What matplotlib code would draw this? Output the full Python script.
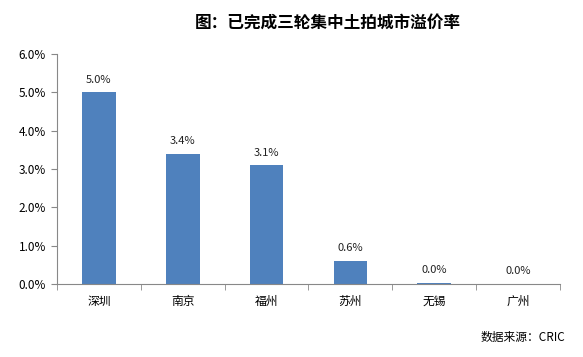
import matplotlib.pyplot as plt
from matplotlib.ticker import FuncFormatter

plt.rcParams['font.family'] = ['Noto Sans CJK SC', 'DejaVu Sans']

# data
cities = ['深圳', '南京', '福州', '苏州', '无锡', '广州']
premium = [5.0, 3.4, 3.1, 0.6, 0.03, 0.0]
labels = ['5.0%', '3.4%', '3.1%', '0.6%', '0.0%', '0.0%']

fig = plt.figure(figsize=(5.83, 3.57), dpi=100)
ax = fig.add_axes([0.0978, 0.2045, 0.8627, 0.6442])

x = list(range(len(cities)))
ax.bar(x, premium, width=0.4, color='#4f81bd')

for xi, v, lab in zip(x, premium, labels):
    ax.text(xi, v + 0.2, lab, ha='center', va='bottom', fontsize=8, color='#222222')

ax.set_xlim(-0.5, len(cities) - 0.5)
ax.set_ylim(0, 6)
ax.set_yticks([0, 1, 2, 3, 4, 5, 6])
ax.yaxis.set_major_formatter(FuncFormatter(lambda v, p: f'{v:.1f}%'))
ax.set_xticks(x)
ax.set_xticklabels(cities)
ax.set_xticks([i - 0.5 for i in range(len(cities) + 1)], minor=True)
ax.tick_params(axis='x', which='major', length=0, pad=8, labelsize=8.5)
ax.tick_params(axis='x', which='minor', length=4, color='#888888', direction='out')
ax.tick_params(axis='y', length=4, color='#888888', labelsize=8.5, pad=4)

for s in ['top', 'right']:
    ax.spines[s].set_visible(False)
for s in ['left', 'bottom']:
    ax.spines[s].set_color('#888888')
    ax.spines[s].set_linewidth(0.8)

fig.text(0.562, 0.935, '图：已完成三轮集中土拍城市溢价率', ha='center', va='center',
         fontsize=12, fontweight='bold')
fig.text(0.97, 0.055, '数据来源：CRIC', ha='right', va='center', fontsize=8.5,
         family=['Noto Sans CJK SC', 'DejaVu Sans Mono'])

fig.savefig('out.png', dpi=100)
